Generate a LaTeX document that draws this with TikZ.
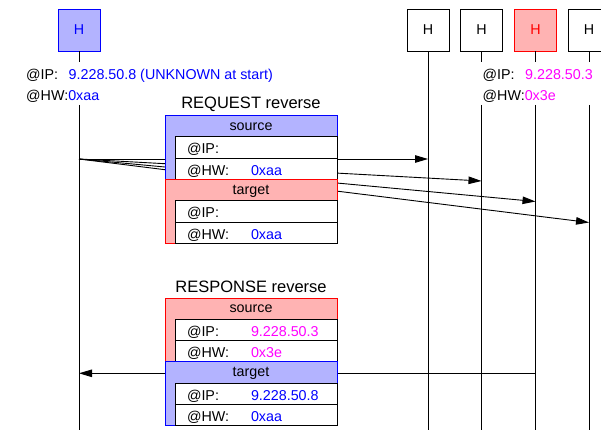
\documentclass[tikz,border=0pt]{standalone}
\usepackage{fontspec}
\setmainfont{Liberation Sans}
\usetikzlibrary{arrows.meta, positioning}
\definecolor{blueFill}{RGB}{179,179,255}
\definecolor{redFill}{RGB}{255,179,179}
\definecolor{addrBlue}{RGB}{0,0,255}
\definecolor{addrPink}{RGB}{255,0,255}
\newcommand{\txt}{\fontsize{14.3}{17}\selectfont}
\newcommand{\bigtxt}{\fontsize{16.5}{20}\selectfont}
\tikzset{
    host/.style={draw, minimum size=42pt, inner sep=0pt, line width=0.9pt, font=\txt},
    lifeline/.style={line width=0.9pt},
    msg/.style={-{Triangle[length=13pt, width=7.5pt]}, line width=0.9pt},
    hostInfo/.style={anchor=base west, inner sep=0pt, font=\txt},
    pktTitle/.style={anchor=base, font=\bigtxt},
    pktHead/.style={inner sep=0pt, text height=8pt, text depth=0pt, font=\txt},
    pktField/.style={draw, fill=white, line width=0.9pt, outer sep=0pt, minimum height=21.3pt, text width=138pt, inner xsep=12pt, inner ysep=0pt, text height=13pt, text depth=0pt, align=left, font=\txt},
}
% one address block: coloured header with a strip down the left, then the two fields
\newcommand{\drawAddr}[7]{
    \draw[#3, fill=#3Fill, line width=0.9pt] (165,#2) -- (337,#2) -- (337,#2+21.3) -- (175,#2+21.3) -- (175,#2+63.9) -- (165,#2+63.9) -- cycle;
    \node[pktHead] (#1) at (251,#2+10.65) {#4};
    \node[pktField, anchor=north west] (#1IP) at (175,#2+21.3) {\makebox[64pt][l]{@IP:}\textcolor{#7}{#5}};
    \node[pktField, below=0pt of #1IP] (#1HW) {\makebox[64pt][l]{@HW:}\textcolor{#7}{#6}};
}

\begin{document}
\begin{tikzpicture}[x=1pt, y=-1pt]

    \useasboundingbox (0,0) rectangle (601,430);

    % hosts
    \node[host, fill=blueFill, draw=blue, text=blue] (hA) at (79,30) {H};
    \node[host] (hB) at (428,30) {H};
    \node[host] (hC) at (481.5,30) {H};
    \node[host, fill=redFill, draw=red, text=red] (hD) at (535.5,30) {H};
    \node[host] (hE) at (589,30) {H};

    % lifelines, broken where the address labels sit
    \coordinate (infoTop) at (0,62);
    \coordinate (infoBot) at (0,105);
    \coordinate (bottom) at (0,430);
    \foreach \h in {hA,hC,hD,hE} {
        \draw[lifeline] (\h.south) -- (\h.south |- infoTop);
        \draw[lifeline] (\h.south |- infoBot) -- (\h.south |- bottom);
    }
    \draw[lifeline] (hB.south) -- (hB.south |- bottom);

    \node[hostInfo] (infoA) at (26,80) {\makebox[42.5pt][l]{@IP:}\textcolor{addrBlue}{9.228.50.8 (UNKNOWN at start)}};
    \node[hostInfo] (infoAhw) at (26,101) {@HW:\textcolor{addrBlue}{0xaa}};
    \node[hostInfo] (infoD) at (482.5,80) {\makebox[42.5pt][l]{@IP:}\textcolor{addrPink}{9.228.50.3}};
    \node[hostInfo] (infoDhw) at (482.5,101) {@HW:\textcolor{addrPink}{0x3e}};

    % broadcast request
    \coordinate (reqFrom) at (79,159);
    \coordinate (reqToC) at (481.5,181);
    \coordinate (reqToD) at (535.5,201.5);
    \coordinate (reqToE) at (589,222.5);
    \draw[msg] (reqFrom) -- (hB |- reqFrom);
    \draw[msg] (reqFrom) -- (reqToC);
    \draw[msg] (reqFrom) -- (reqToD);
    \draw[msg] (reqFrom) -- (reqToE);

    % response
    \coordinate (respFrom) at (535.5,373.3);
    \draw[msg] (respFrom) -- (hA |- respFrom);

    \node[pktTitle] (reqTitle) at (251,108.5) {REQUEST reverse};
    \drawAddr{reqSrc}{115.5}{blue}{source}{}{0xaa}{addrBlue}
    \drawAddr{reqDst}{179.4}{red}{target}{}{0xaa}{addrBlue}

    \node[pktTitle] (respTitle) at (251,292.5) {RESPONSE reverse};
    \drawAddr{respSrc}{298}{red}{source}{9.228.50.3}{0x3e}{addrPink}
    \drawAddr{respDst}{361.9}{blue}{target}{9.228.50.8}{0xaa}{addrBlue}

\end{tikzpicture}
\end{document}
